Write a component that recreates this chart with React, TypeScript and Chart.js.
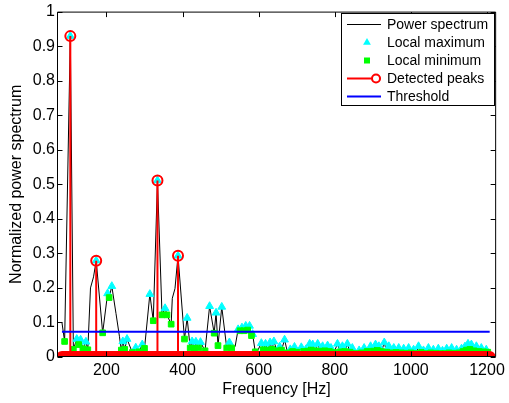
import React, { useEffect, useRef } from "react";
import { Chart, registerables } from "chart.js";

Chart.register(...registerables);

const FONT = "'Liberation Sans', Arial, Helvetica, sans-serif";

// ---- data ----
const specFreq = [
  83, 90, 105, 113, 122, 127, 132, 138, 146, 151,
  158, 166, 173, 190, 203, 207, 214, 225, 234, 239,
  243, 248, 254, 268, 277, 285, 294, 300, 314, 323,
  334, 346, 354, 359, 370, 373, 380, 388, 405, 412,
  420, 425, 431, 435, 442, 447, 459, 471, 483, 488,
  493, 503, 516, 523, 529, 538, 546, 551, 556, 561,
  566, 571, 576, 581, 584, 591, 598, 607, 612, 618,
  624, 630, 635, 640, 648, 655, 660, 668, 676, 683,
  689,
  694, 700, 712, 718, 724, 729, 734, 738, 742, 748,
  755, 762, 768, 774, 781, 786, 790, 798, 807, 814,
  820, 826, 833, 840, 846, 855, 864, 870, 877, 885,
  894, 901, 907, 912, 916, 923, 930, 936, 942, 948,
  955, 961, 968, 975, 981, 988, 994, 1000, 1007, 1013,
  1020, 1027, 1033, 1040, 1046, 1052, 1059, 1066, 1072, 1078,
  1083, 1089, 1094, 1100, 1107, 1114, 1120, 1127, 1133, 1137,
  1142, 1146, 1150, 1155, 1159, 1166, 1172, 1178, 1185, 1191,
  1198, 1202, 1207,
];
const specPower = [
  0.100, 0.045, 0.929, 0.022, 0.052, 0.036, 0.050, 0.024, 0.044, 0.021,
  0.200, 0.232, 0.279, 0.070, 0.184, 0.172, 0.205, 0.126, 0.060, 0.020,
  0.045, 0.022, 0.052, 0.013, 0.027, 0.015, 0.036, 0.025, 0.182, 0.105,
  0.511, 0.122, 0.141, 0.122, 0.095, 0.170, 0.198, 0.293, 0.052, 0.113,
  0.026, 0.045, 0.025, 0.044, 0.026, 0.043, 0.018, 0.147, 0.069, 0.128,
  0.033, 0.145, 0.026, 0.042, 0.026, 0.030, 0.080, 0.076, 0.085, 0.076,
  0.090, 0.078, 0.090, 0.062, 0.066, 0.015, 0.020, 0.040, 0.021, 0.038,
  0.020, 0.042, 0.022, 0.045, 0.018, 0.030, 0.020, 0.050, 0.012, 0.022,
  0.016,
  0.029, 0.014, 0.028, 0.016, 0.022, 0.017, 0.038, 0.020, 0.036, 0.018,
  0.038, 0.017, 0.031, 0.018, 0.033, 0.016, 0.026, 0.013, 0.038, 0.015,
  0.031, 0.016, 0.038, 0.014, 0.026, 0.010, 0.019, 0.012, 0.026, 0.016,
  0.031, 0.017, 0.036, 0.019, 0.031, 0.016, 0.042, 0.014, 0.031, 0.012,
  0.026, 0.013, 0.026, 0.012, 0.024, 0.011, 0.026, 0.012, 0.021, 0.010,
  0.031, 0.013, 0.019, 0.010, 0.026, 0.012, 0.021, 0.011, 0.024, 0.010,
  0.018, 0.010, 0.024, 0.012, 0.026, 0.011, 0.021, 0.012, 0.024, 0.016,
  0.030, 0.020, 0.038, 0.022, 0.036, 0.018, 0.031, 0.016, 0.026, 0.015,
  0.021, 0.014, 0.016,
];

const maxFreq = [
  105, 122, 132, 146, 173, 203, 214, 243, 254, 277,
  294, 314, 334, 354, 388, 412, 425, 435, 447, 471,
  488, 503, 523, 546, 556, 566, 576, 584, 607, 618,
  630, 640, 655, 668, 683,
  694, 712, 724, 734, 742, 755, 768, 781, 790, 807,
  820, 833, 846, 864, 877, 894, 907, 916, 930, 942,
  955, 968, 981, 994, 1007, 1020, 1033, 1046, 1059, 1072,
  1083, 1094, 1107, 1120, 1133, 1142, 1150, 1159, 1172, 1185,
  1198,
];
const maxPower = [
  0.929, 0.052, 0.050, 0.044, 0.279, 0.184, 0.205, 0.045, 0.052, 0.027,
  0.036, 0.182, 0.511, 0.141, 0.293, 0.113, 0.045, 0.044, 0.043, 0.147,
  0.128, 0.145, 0.042, 0.080, 0.085, 0.090, 0.090, 0.066, 0.040, 0.038,
  0.042, 0.045, 0.030, 0.050, 0.022,
  0.029, 0.028, 0.022, 0.038, 0.036, 0.038, 0.031, 0.033, 0.026, 0.038,
  0.031, 0.038, 0.026, 0.019, 0.026, 0.031, 0.036, 0.031, 0.042, 0.031,
  0.026, 0.026, 0.024, 0.026, 0.021, 0.031, 0.019, 0.026, 0.021, 0.024,
  0.018, 0.024, 0.026, 0.021, 0.024, 0.030, 0.038, 0.036, 0.031, 0.026,
  0.021,
];

const minFreq = [
  90, 113, 127, 138, 151, 190, 207, 239, 248, 268,
  285, 300, 323, 346, 359, 370, 405, 420, 431, 442,
  459, 483, 493, 516, 529, 551, 561, 571, 581, 591,
  612, 624, 635, 648, 660, 676, 689,
  700, 718, 729, 738, 748, 762, 774, 786, 798, 814,
  826, 840, 855, 870, 885, 901, 912, 923, 936, 948,
  961, 975, 988, 1000, 1013, 1027, 1040, 1052, 1066, 1078,
  1089, 1100, 1114, 1127, 1137, 1146, 1155, 1166, 1178, 1191,
  1202,
];
const minPower = [
  0.045, 0.022, 0.036, 0.024, 0.021, 0.070, 0.172, 0.020, 0.022, 0.013,
  0.015, 0.025, 0.105, 0.122, 0.122, 0.095, 0.052, 0.026, 0.025, 0.026,
  0.018, 0.069, 0.033, 0.026, 0.026, 0.076, 0.076, 0.078, 0.062, 0.015,
  0.021, 0.020, 0.022, 0.018, 0.020, 0.012, 0.016,
  0.014, 0.016, 0.017, 0.020, 0.018, 0.017, 0.018, 0.016, 0.013, 0.015,
  0.016, 0.014, 0.010, 0.012, 0.016, 0.017, 0.019, 0.016, 0.014, 0.012,
  0.013, 0.012, 0.011, 0.012, 0.010, 0.013, 0.010, 0.012, 0.011, 0.010,
  0.010, 0.012, 0.011, 0.012, 0.016, 0.020, 0.022, 0.018, 0.016, 0.015,
  0.014,
];

const peakFreq = [105, 173, 334, 388];
const peakPower = [0.929, 0.279, 0.511, 0.293];
const thresholdLevel = 0.073;

const xRange = [70, 1224];
const xTicks = [200, 400, 600, 800, 1000, 1200];
const yTicks = [0, 0.1, 0.2, 0.3, 0.4, 0.5, 0.6, 0.7, 0.8, 0.9, 1];
const yTickLabels = ["0", "0.1", "0.2", "0.3", "0.4", "0.5", "0.6", "0.7", "0.8", "0.9", "1"];
const xTitle = "Frequency [Hz]";
const yTitle = "Normalized power spectrum";
const legendLabels = ["Power spectrum", "Local maximum", "Local minimum", "Detected peaks", "Threshold"];

const COLORS = {
  spectrum: "#000000",
  max: "#00ffff",
  min: "#00ff00",
  peaks: "#ff0000",
  threshold: "#0000ff",
};

// ---- plugins ----
const framePlugin = {
  id: "matlabFrame",
  afterDatasetsDraw(chart: any) {
    const { ctx, chartArea: a, scales } = chart;
    ctx.save();
    ctx.strokeStyle = "#000";
    ctx.lineWidth = 1;
    const L = a.left + 0.5;
    const R = a.right - 0.5;
    const T = a.top + 0.5;
    const B = a.bottom - 0.5;
    ctx.beginPath();
    ctx.rect(L, T, R - L, B - T);
    const tl = 5;
    for (const v of yTicks) {
      const y = Math.round(scales.y.getPixelForValue(v)) + 0.5;
      ctx.moveTo(L, y);
      ctx.lineTo(L + tl, y);
      ctx.moveTo(R, y);
      ctx.lineTo(R - tl, y);
    }
    for (const v of xTicks) {
      const x = Math.round(scales.x.getPixelForValue(v)) + 0.5;
      ctx.moveTo(x, T);
      ctx.lineTo(x, T + tl);
      ctx.moveTo(x, B);
      ctx.lineTo(x, B - tl);
    }
    ctx.stroke();
    ctx.restore();
  },
};

const legendPlugin = {
  id: "matlabLegend",
  afterDraw(chart: any) {
    const ctx = chart.ctx;
    ctx.save();
    const bx = 341.5, by = 13.5, bw = 153, bh = 92;
    ctx.fillStyle = "#fff";
    ctx.fillRect(bx, by, bw, bh);
    ctx.strokeStyle = "#000";
    ctx.lineWidth = 1;
    ctx.strokeRect(bx, by, bw, bh);
    const rows = [24.5, 42.5, 60.5, 78.5, 96.5];
    const x0 = 347, x1 = 381, xm = 367;
    // 1 spectrum line
    ctx.beginPath();
    ctx.strokeStyle = COLORS.spectrum;
    ctx.lineWidth = 1;
    ctx.moveTo(x0, rows[0]);
    ctx.lineTo(x1, rows[0]);
    ctx.stroke();
    // 2 triangle
    ctx.beginPath();
    ctx.fillStyle = COLORS.max;
    const r = 4.5;
    ctx.moveTo(xm, rows[1] - r);
    ctx.lineTo(xm + r * 0.866, rows[1] + r / 2);
    ctx.lineTo(xm - r * 0.866, rows[1] + r / 2);
    ctx.closePath();
    ctx.fill();
    // 3 square
    ctx.fillStyle = COLORS.min;
    ctx.fillRect(xm - 3, rows[2] - 3, 6, 6);
    // 4 peaks line + circle
    ctx.beginPath();
    ctx.strokeStyle = COLORS.peaks;
    ctx.lineWidth = 2;
    ctx.moveTo(x0, rows[3]);
    ctx.lineTo(x1, rows[3]);
    ctx.stroke();
    ctx.beginPath();
    ctx.fillStyle = "#fff";
    ctx.arc(376, rows[3], 4, 0, Math.PI * 2);
    ctx.fill();
    ctx.stroke();
    // 5 threshold
    ctx.beginPath();
    ctx.strokeStyle = COLORS.threshold;
    ctx.lineWidth = 2;
    ctx.moveTo(x0, rows[4]);
    ctx.lineTo(x1, rows[4]);
    ctx.stroke();
    // labels
    ctx.fillStyle = "#000";
    ctx.font = `14px ${FONT}`;
    ctx.textAlign = "left";
    ctx.textBaseline = "middle";
    legendLabels.forEach((t, i) => ctx.fillText(t, 387, rows[i] + 0.5));
    ctx.restore();
  },
};

function pts(xs: number[], ys: number[]) {
  return xs.map((x, i) => ({ x, y: ys[i] }));
}

export default function App() {
  const ref = useRef<HTMLCanvasElement>(null);
  useEffect(() => {
    const stems: { x: number; y: number }[] = [];
    peakFreq.forEach((f, i) => {
      stems.push({ x: f, y: 0 }, { x: f, y: peakPower[i] }, { x: f, y: 0 });
    });
    const first = specFreq[0];
    const last = specFreq[specFreq.length - 1];
    const tickFont = { family: FONT, size: 16 };
    const chart = new Chart(ref.current as HTMLCanvasElement, {
      type: "line",
      data: {
        datasets: [
          {
            label: legendLabels[4],
            data: [{ x: first, y: thresholdLevel }, { x: last, y: thresholdLevel }],
            borderColor: COLORS.threshold,
            borderWidth: 2,
            pointRadius: 0,
            order: 0,
          },
          {
            label: legendLabels[3],
            data: stems,
            borderColor: COLORS.peaks,
            backgroundColor: "rgba(0,0,0,0)",
            borderWidth: 2,
            pointRadius: (c: any) => (c.raw && c.raw.y > 0 ? 5 : 0),
            pointBorderWidth: 2,
            pointBorderColor: COLORS.peaks,
            pointBackgroundColor: "rgba(0,0,0,0)",
            order: 1,
          },
          {
            label: "peak baseline",
            data: specFreq.map((f) => ({ x: f, y: 0 })),
            borderColor: COLORS.peaks,
            borderWidth: 12,
            borderCapStyle: "round",
            pointRadius: 0,
            order: 2,
          },
          {
            label: legendLabels[2],
            data: pts(minFreq, minPower),
            showLine: false,
            pointStyle: "rect",
            pointRadius: 4,
            pointBorderWidth: 1,
            pointBackgroundColor: COLORS.min,
            pointBorderColor: COLORS.min,
            order: 3,
          },
          {
            label: legendLabels[1],
            data: pts(maxFreq, maxPower),
            showLine: false,
            pointStyle: "triangle",
            pointRadius: 4.5,
            pointBorderWidth: 1,
            pointBackgroundColor: COLORS.max,
            pointBorderColor: COLORS.max,
            order: 4,
          },
          {
            label: legendLabels[0],
            data: pts(specFreq, specPower),
            borderColor: COLORS.spectrum,
            borderWidth: 1,
            pointRadius: 0,
            order: 5,
          },
        ],
      } as any,
      options: {
        animation: false,
        responsive: false,
        events: [],
        layout: { padding: { top: 8, right: 9, left: 0, bottom: 0 } },
        plugins: { legend: { display: false }, tooltip: { enabled: false } },
        scales: {
          x: {
            type: "linear",
            min: xRange[0],
            max: xRange[1],
            afterBuildTicks: (s: any) => {
              s.ticks = xTicks.map((v) => ({ value: v }));
            },
            afterFit: (s: any) => {
              s.height = 46;
            },
            grid: { display: false, drawTicks: false },
            border: { display: false },
            ticks: {
              font: tickFont,
              color: "#000",
              padding: 4,
              maxRotation: 0,
              autoSkip: false,
              callback: (v: any) => String(v),
            },
            title: {
              display: true,
              text: xTitle,
              font: tickFont,
              color: "#000",
              padding: { top: 0, bottom: 4 },
            },
          },
          y: {
            type: "linear",
            min: 0,
            max: 1,
            afterBuildTicks: (s: any) => {
              s.ticks = yTicks.map((v) => ({ value: v }));
            },
            afterFit: (s: any) => {
              s.width = 57;
            },
            grid: { display: false, drawTicks: false },
            border: { display: false },
            ticks: {
              font: tickFont,
              color: "#000",
              padding: 2,
              autoSkip: false,
              callback: (_v: any, i: number) => yTickLabels[i],
            },
            title: {
              display: true,
              text: yTitle,
              font: tickFont,
              color: "#000",
              padding: { top: 7, bottom: 0 },
            },
          },
        },
      } as any,
      plugins: [framePlugin, legendPlugin],
    });
    return () => chart.destroy();
  }, []);
  return (
    <div style={{ position: "fixed", left: 0, top: 0, width: 509, height: 403, background: "#fff" }}>
      <canvas ref={ref} width={509} height={403} style={{ display: "block", width: 509, height: 403 }} />
    </div>
  );
}
